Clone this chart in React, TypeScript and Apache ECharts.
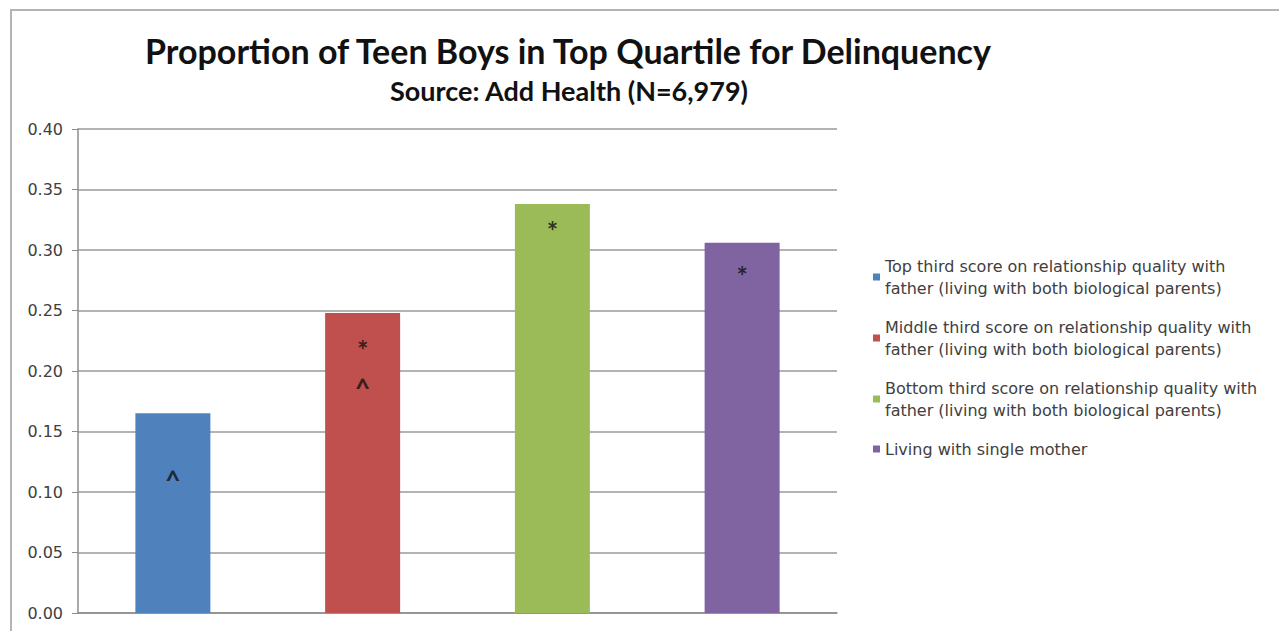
import React, { useEffect, useRef } from "react";
import * as echarts from "echarts";

const categories = ["Top third", "Middle third", "Bottom third", "Single mother"];
const seriesNames = [
  "Top third score on relationship quality with\nfather (living with both biological parents)",
  "Middle third score on relationship quality with\nfather (living with both biological parents)",
  "Bottom third score on relationship quality with\nfather (living with both biological parents)",
  "Living with single mother",
];
const values = [0.165, 0.248, 0.338, 0.306];
const colors = ["#4f81bd", "#c0504d", "#9bbb59", "#8064a2"];
const yTicks = [0, 0.05, 0.1, 0.15, 0.2, 0.25, 0.3, 0.35, 0.4];

const annotationCats = [0, 1, 1, 2, 3];
const annotationValues = [0.11, 0.218, 0.186, 0.316, 0.279];
const annotationTexts = ["^", "*", "^", "*", "*"];

const FONT = "Lato, 'Open Sans', sans-serif";

export default function App() {
  const ref = useRef<HTMLDivElement>(null);
  useEffect(() => {
    if (!ref.current) return;
    const chart = echarts.init(ref.current, undefined, { renderer: "svg" });
    const barSeries = seriesNames.map((name, i) => ({
      name,
      type: "bar",
      barWidth: 75,
      barGap: "-100%",
      itemStyle: { color: colors[i] },
      data: categories.map((_, j) => (j === i ? values[i] : "-")),
      z: 2,
    }));
    chart.setOption({
      animation: false,
      backgroundColor: "#ffffff",
      textStyle: { fontFamily: FONT },
      title: [
        {
          text: "Proportion of Teen Boys in Top Quartile for Delinquency",
          left: 563,
          top: 28,
          textAlign: "center",
          textStyle: { fontFamily: FONT, fontWeight: "bold", fontSize: 34, color: "#111" },
        },
        {
          text: "Source: Add Health (N=6,979)",
          left: 564,
          top: 72,
          textAlign: "center",
          textStyle: { fontFamily: FONT, fontWeight: "bold", fontSize: 27, color: "#111" },
        },
      ],
      graphic: [
        {
          type: "polyline",
          shape: { points: [[11, 631], [11, 10], [1279, 10]] },
          style: { stroke: "#b4b4b4", lineWidth: 2, fill: "none" },
          silent: true,
        },
      ],
      legend: {
        orient: "vertical",
        left: 868,
        top: 250,
        icon: "rect",
        itemWidth: 7,
        itemHeight: 7,
        itemGap: 17,
        data: seriesNames,
        textStyle: {
          fontFamily: "'DejaVu Sans', sans-serif",
          fontSize: 16,
          lineHeight: 22,
          color: "#404040",
        },
      },
      grid: { left: 78, right: 442, top: 129, bottom: 18 },
      xAxis: {
        type: "category",
        data: categories,
        axisLabel: { show: false },
        axisTick: { show: false },
        axisLine: { show: true, lineStyle: { color: "#8c8c8c", width: 1.5 } },
      },
      yAxis: {
        type: "value",
        min: yTicks[0],
        max: yTicks[yTicks.length - 1],
        interval: 0.05,
        axisLabel: {
          formatter: (v: number) => v.toFixed(2),
          fontFamily: "'DejaVu Sans', sans-serif",
          fontSize: 16,
          color: "#404040",
          margin: 15,
        },
        axisTick: { show: true, length: 6, lineStyle: { color: "#8c8c8c" } },
        axisLine: { show: true, lineStyle: { color: "#8c8c8c", width: 1.5 } },
        splitLine: { lineStyle: { color: "#9a9a9a", width: 1.5 } },
      },
      series: [
        ...barSeries,
        {
          name: "annotations",
          type: "scatter",
          symbolSize: 0,
          z: 5,
          data: annotationCats.map((c, i) => [c, annotationValues[i], annotationTexts[i]]),
          label: {
            show: true,
            position: "inside",
            formatter: (p: any) => p.data[2],
            fontFamily: FONT,
            fontWeight: "bold",
            fontSize: 27,
            color: "#111",
          },
        },
      ],
    });
    return () => chart.dispose();
  }, []);
  return (
    <div
      ref={ref}
      style={{ position: "absolute", left: 0, top: 0, width: 1279, height: 631 }}
    />
  );
}
